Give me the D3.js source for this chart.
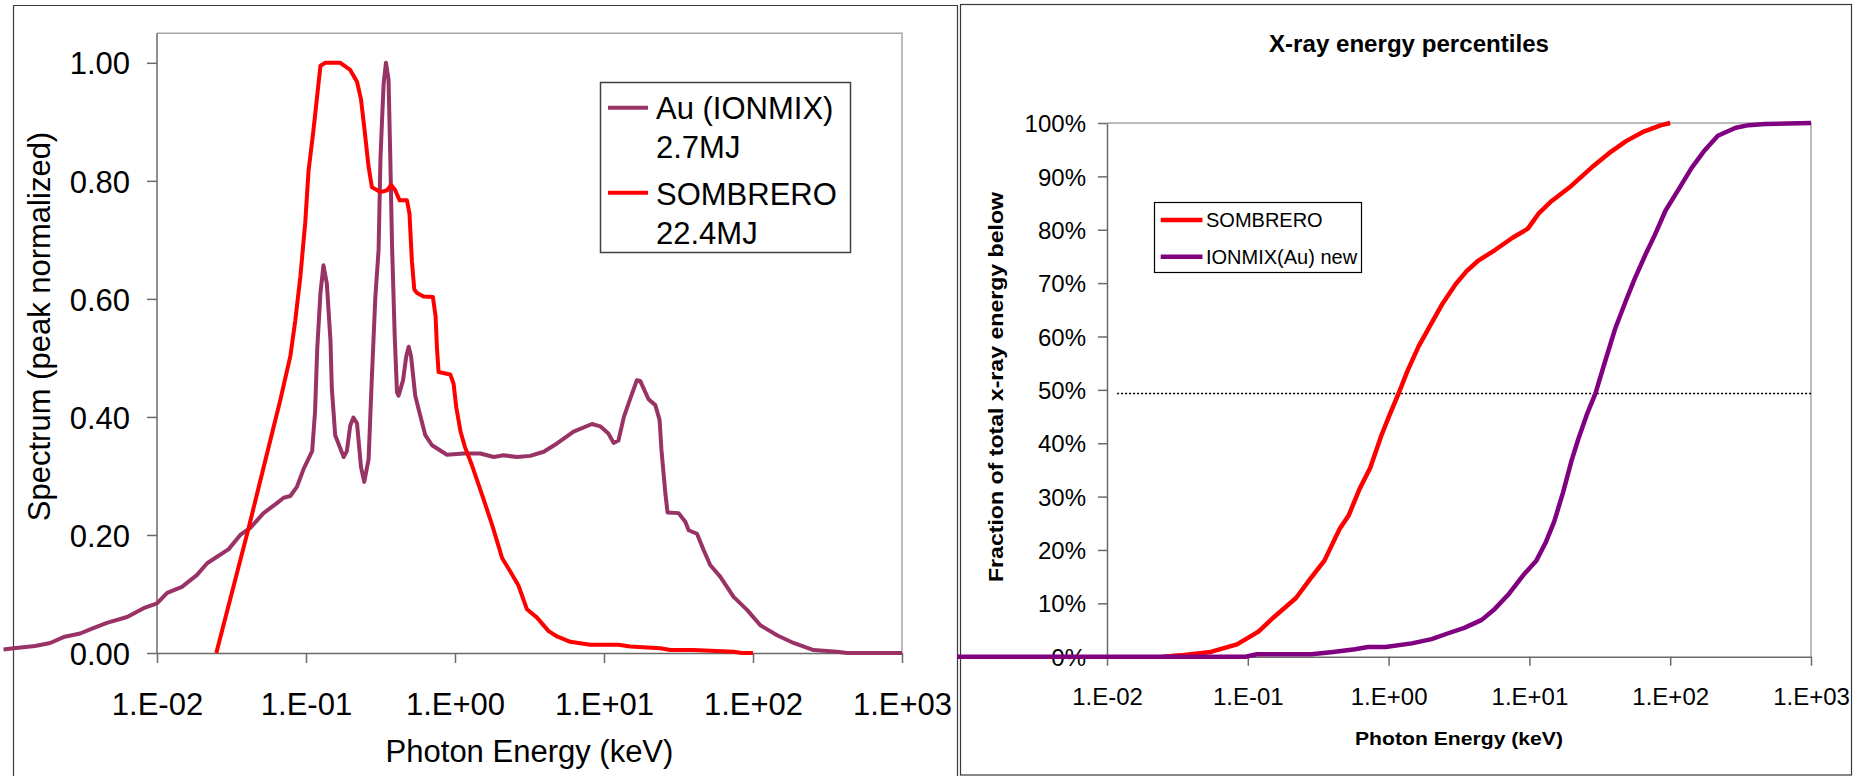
<!DOCTYPE html>
<html><head><meta charset="utf-8">
<script src="https://cdn.jsdelivr.net/npm/d3@7"></script>
<style>
body{margin:0;background:#fff}
svg{display:block}
text{font-family:"Liberation Sans",Arial,sans-serif;fill:#000}
</style>
</head><body>
<svg id="c" width="1866" height="776"></svg>
<script>
// ---------- DATA ----------
const xTickValues = [0.01, 0.1, 1, 10, 100, 1000];
const xTickLabels = ["1.E-02", "1.E-01", "1.E+00", "1.E+01", "1.E+02", "1.E+03"];
const leftYTicks = [0, 0.2, 0.4, 0.6, 0.8, 1.0];
const leftYTickLabels = ["0.00", "0.20", "0.40", "0.60", "0.80", "1.00"];
const rightYTicks = [0, 0.1, 0.2, 0.3, 0.4, 0.5, 0.6, 0.7, 0.8, 0.9, 1.0];
const rightYTickLabels = ["0%", "10%", "20%", "30%", "40%", "50%", "60%", "70%", "80%", "90%", "100%"];

// Left chart: spectra (peak normalized) vs photon energy (keV)
const auEnergy = [0.000933,0.00109,0.00152,0.00192,0.00236,0.00305,0.00356,0.00461,0.0063,0.00813,0.01,0.0117,0.0147,0.0185,0.0217,0.0253,0.0303,0.0362,0.0423,0.0519,0.0638,0.0708,0.0785,0.0871,0.0964,0.11,0.115,0.119,0.125,0.131,0.138,0.146,0.149,0.157,0.179,0.188,0.198,0.208,0.22,0.234,0.246,0.263,0.277,0.292,0.307,0.316,0.324,0.332,0.344,0.358,0.368,0.378,0.394,0.408,0.418,0.448,0.471,0.489,0.507,0.541,0.585,0.632,0.701,0.883,1.14,1.48,1.82,2.12,2.61,3.2,3.94,4.84,6.25,8.3,9.44,10.7,11.6,12.5,13.6,15.0,16.6,17.5,19.9,22.1,23.6,24.3,25.8,26.7,31.7,35.2,37.0,42.1,46.7,51.6,60.4,74.1,91.2,112,145,187,255,366,428,1000];
const auSpectrum = [0.006,0.008,0.012,0.017,0.027,0.033,0.04,0.051,0.061,0.076,0.084,0.102,0.112,0.132,0.152,0.163,0.176,0.2,0.212,0.237,0.254,0.263,0.266,0.282,0.312,0.342,0.409,0.516,0.61,0.657,0.626,0.529,0.449,0.369,0.332,0.342,0.385,0.399,0.389,0.315,0.29,0.328,0.469,0.603,0.683,0.838,0.904,0.965,1.0,0.972,0.838,0.69,0.536,0.442,0.436,0.462,0.503,0.519,0.503,0.436,0.402,0.369,0.352,0.336,0.338,0.338,0.332,0.335,0.332,0.334,0.341,0.355,0.375,0.388,0.384,0.372,0.356,0.36,0.4,0.431,0.462,0.461,0.43,0.42,0.395,0.344,0.271,0.238,0.237,0.222,0.208,0.202,0.174,0.149,0.129,0.095,0.073,0.047,0.03,0.017,0.005,0.002,0.0,0.0];

const sombEnergy = [0.025,0.0412,0.0673,0.0785,0.0847,0.0916,0.0989,0.104,0.112,0.119,0.125,0.135,0.17,0.198,0.22,0.234,0.246,0.263,0.277,0.316,0.35,0.373,0.397,0.425,0.476,0.495,0.514,0.533,0.556,0.615,0.711,0.741,0.757,0.776,0.929,0.979,1.02,1.09,1.17,1.3,1.52,1.77,1.96,2.07,2.35,2.67,3.04,3.55,4.25,4.84,5.94,8.09,12.5,15.0,23.9,27.9,39.9,74.1,84.3,100];
const sombSpectrum = [0.0,0.212,0.429,0.503,0.563,0.637,0.73,0.817,0.884,0.945,0.995,1.0,1.0,0.988,0.968,0.938,0.891,0.824,0.789,0.781,0.784,0.793,0.784,0.767,0.767,0.744,0.663,0.616,0.61,0.604,0.603,0.57,0.516,0.476,0.472,0.456,0.416,0.375,0.348,0.318,0.268,0.218,0.181,0.161,0.138,0.114,0.074,0.06,0.037,0.028,0.019,0.014,0.014,0.011,0.008,0.005,0.005,0.002,0.0,0.0];

// Right chart: cumulative fraction of x-ray energy below E
const sombCumEnergy = [0.025,0.033,0.0545,0.0838,0.119,0.153,0.22,0.282,0.35,0.45,0.519,0.621,0.741,0.887,1.02,1.18,1.36,1.63,1.95,2.42,2.99,3.57,4.28,5.7,7.59,9.75,11.6,14.4,19.2,27.5,36.6,48.6,64.9,86.3,100];
const sombCumFraction = [0.0,0.0025,0.009,0.023,0.047,0.074,0.11,0.148,0.18,0.24,0.264,0.314,0.354,0.414,0.454,0.494,0.535,0.581,0.618,0.662,0.698,0.722,0.741,0.762,0.785,0.802,0.83,0.854,0.879,0.916,0.943,0.966,0.984,0.996,1.0];

const ionCumEnergy = [0.000871,0.0964,0.116,0.282,0.404,0.577,0.714,0.953,1.46,2.02,2.59,3.45,4.59,5.7,7.06,9.06,11.2,13.0,15.0,17.3,19.9,22.2,25.6,29.5,34.0,40.7,48.6,56.1,67.1,77.4,92.7,115,142,176,218,292,361,471,1000];
const ionCumFraction = [0.0,0.0,0.0045,0.0045,0.009,0.014,0.018,0.018,0.025,0.033,0.043,0.054,0.069,0.09,0.116,0.153,0.18,0.213,0.253,0.307,0.367,0.407,0.454,0.494,0.548,0.615,0.668,0.709,0.755,0.789,0.836,0.876,0.916,0.949,0.976,0.991,0.996,0.998,1.0];

const halfEnergy = [0.0118, 1000];
const halfFraction = [0.493, 0.493];

const leftSeries = ["Au (IONMIX)", "SOMBRERO"];
const leftLegendLines = [["Au (IONMIX)", "2.7MJ"], ["SOMBRERO", "22.4MJ"]];
const rightSeries = ["SOMBRERO", "IONMIX(Au) new"];

// ---------- DRAW ----------
const svg = d3.select("#c");
const FONT = '"Liberation Sans",Arial,sans-serif';
const AXIS = "#6a6a6a", FRAME = "#a6a6a6", BORDER = "#3a3a3a";
const AU = "#993366", RED = "#ff0000", PURPLE = "#800080";
const zip = (xs, ys) => xs.map((x, i) => [x, ys[i]]);

// panel borders
svg.append("path").attr("d", "M13.5,776 V5.5 H957.5 V776")
  .attr("fill", "none").attr("stroke", BORDER).attr("stroke-width", 1.2);
svg.append("rect").attr("x", 960.5).attr("y", 4.5).attr("width", 891).attr("height", 770.5)
  .attr("fill", "none").attr("stroke", BORDER).attr("stroke-width", 1.2);

// ===== LEFT CHART =====
const xL = d3.scaleLog().domain([0.01, 1000]).range([157, 902]);
const yL = d3.scaleLinear().domain([0, 1.05]).range([653, 33.3]);
const gL = svg.append("g");

gL.append("path").attr("d", `M${xL(0.01)},${yL(1.05)} H${xL(1000)} V${yL(0)}`)
  .attr("fill", "none").attr("stroke", FRAME).attr("stroke-width", 1.5);

const axLy = gL.append("g").attr("transform", `translate(${xL(0.01)},0)`)
  .call(d3.axisLeft(yL).tickValues(leftYTicks).tickSize(10).tickSizeOuter(0)
    .tickFormat((d, i) => leftYTickLabels[i]));
const axLx = gL.append("g").attr("transform", `translate(0,${yL(0)})`)
  .call(d3.axisBottom(xL).tickValues(xTickValues).tickSize(10).tickSizeOuter(0)
    .tickFormat((d, i) => xTickLabels[i]));
[axLy, axLx].forEach(a => {
  a.select(".domain").attr("stroke", AXIS).attr("stroke-width", 1.5);
  a.selectAll(".tick line").attr("stroke", AXIS).attr("stroke-width", 1.5);
  a.selectAll("text").attr("font-family", FONT).attr("font-size", 31).attr("fill", "#000");
});
axLy.select(".domain").attr("d", `M0,${yL(1.05)} V${yL(0)}`);
axLy.selectAll(".tick text").attr("x", -27).attr("dy", "0.36em");
axLx.selectAll(".tick text").attr("y", 40).attr("dy", "0.71em");

const lineL = d3.line().x(d => xL(d[0])).y(d => yL(d[1]));
gL.append("path").datum(zip(auEnergy, auSpectrum)).attr("d", lineL)
  .attr("fill", "none").attr("stroke", AU).attr("stroke-width", 4).attr("stroke-linejoin", "round");
gL.append("path").datum(zip(sombEnergy, sombSpectrum)).attr("d", lineL)
  .attr("fill", "none").attr("stroke", RED).attr("stroke-width", 4).attr("stroke-linejoin", "round");

gL.append("text").attr("transform", "translate(50,326.5) rotate(-90)")
  .attr("text-anchor", "middle").attr("font-size", 31).text("Spectrum (peak normalized)");
gL.append("text").attr("x", (xL(0.01) + xL(1000)) / 2).attr("y", 762)
  .attr("text-anchor", "middle").attr("font-size", 31).text("Photon Energy (keV)");

// left legend
const lgL = gL.append("g");
lgL.append("rect").attr("x", 600.5).attr("y", 82.5).attr("width", 250).attr("height", 170)
  .attr("fill", "#fff").attr("stroke", "#404040").attr("stroke-width", 1.5);
[AU, RED].forEach((c, i) => {
  const ly = 107.7 + i * 85;
  lgL.append("line").attr("x1", 608).attr("x2", 648).attr("y1", ly).attr("y2", ly)
    .attr("stroke", c).attr("stroke-width", 4);
  leftLegendLines[i].forEach((t, j) => {
    lgL.append("text").attr("x", 656).attr("y", 119.3 + i * 85.7 + j * 39)
      .attr("font-size", 31).text(t);
  });
});

// ===== RIGHT CHART =====
const xR = d3.scaleLog().domain([0.01, 1000]).range([1107, 1811]);
const yR = d3.scaleLinear().domain([0, 1]).range([656.7, 123]);
const gR = svg.append("g");

gR.append("path").attr("d", `M${xR(0.01)},${yR(1)} H${xR(1000)} V${yR(0)}`)
  .attr("fill", "none").attr("stroke", FRAME).attr("stroke-width", 1.5);

const axRy = gR.append("g").attr("transform", `translate(${xR(0.01)},0)`)
  .call(d3.axisLeft(yR).tickValues(rightYTicks).tickSize(9).tickSizeOuter(0)
    .tickFormat((d, i) => rightYTickLabels[i]));
const axRx = gR.append("g").attr("transform", `translate(0,${yR(0)})`)
  .call(d3.axisBottom(xR).tickValues(xTickValues).tickSize(9).tickSizeOuter(0)
    .tickFormat((d, i) => xTickLabels[i]));
[axRy, axRx].forEach(a => {
  a.select(".domain").attr("stroke", AXIS).attr("stroke-width", 1.5);
  a.selectAll(".tick line").attr("stroke", AXIS).attr("stroke-width", 1.5);
  a.selectAll("text").attr("font-family", FONT).attr("font-size", 24).attr("fill", "#000");
});
axRy.selectAll(".tick text").attr("x", -21).attr("dy", "0.36em");
axRx.selectAll(".tick text").attr("y", 31).attr("dy", "0.71em");

const lineR = d3.line().x(d => xR(d[0])).y(d => yR(d[1]));
gR.append("path").datum(zip(halfEnergy, halfFraction)).attr("d", lineR)
  .attr("fill", "none").attr("stroke", "#000").attr("stroke-width", 1.5).attr("stroke-dasharray", "2,2");
gR.append("path").datum(zip(sombCumEnergy, sombCumFraction)).attr("d", lineR)
  .attr("fill", "none").attr("stroke", RED).attr("stroke-width", 4.5).attr("stroke-linejoin", "round");
gR.append("path").datum(zip(ionCumEnergy, ionCumFraction)).attr("d", lineR)
  .attr("fill", "none").attr("stroke", PURPLE).attr("stroke-width", 4.5).attr("stroke-linejoin", "round");

gR.append("text").attr("x", 1409).attr("y", 51.7).attr("text-anchor", "middle")
  .attr("font-size", 23).attr("font-weight", "bold")
  .attr("textLength", 280).attr("lengthAdjust", "spacingAndGlyphs").text("X-ray energy percentiles");
gR.append("text").attr("x", (xR(0.01) + xR(1000)) / 2).attr("y", 745).attr("text-anchor", "middle")
  .attr("font-size", 19).attr("font-weight", "bold")
  .attr("textLength", 208).attr("lengthAdjust", "spacingAndGlyphs").text("Photon Energy (keV)");
gR.append("text").attr("transform", "translate(1003,387) rotate(-90)").attr("text-anchor", "middle")
  .attr("font-size", 20).attr("font-weight", "bold")
  .attr("textLength", 390).attr("lengthAdjust", "spacingAndGlyphs").text("Fraction of total x-ray energy below");

// right legend
const lgR = gR.append("g");
lgR.append("rect").attr("x", 1154.5).attr("y", 202.5).attr("width", 207).attr("height", 70)
  .attr("fill", "#fff").attr("stroke", "#000").attr("stroke-width", 1.2);
[RED, PURPLE].forEach((c, i) => {
  const ly = 220 + i * 36.7;
  lgR.append("line").attr("x1", 1160.7).attr("x2", 1202.5).attr("y1", ly).attr("y2", ly)
    .attr("stroke", c).attr("stroke-width", 4.5);
  lgR.append("text").attr("x", 1206).attr("y", ly + 7.3).attr("font-size", 20).text(rightSeries[i]);
});
</script>
</body></html>
